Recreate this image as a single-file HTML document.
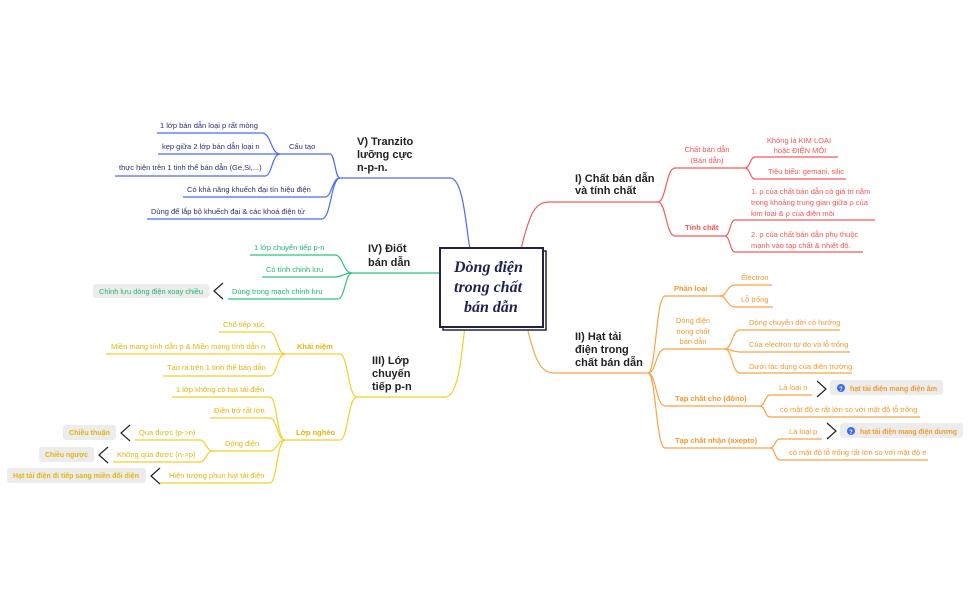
<!DOCTYPE html>
<html><head><meta charset="utf-8"><style>
html,body{margin:0;padding:0;background:#fff;}
svg{display:block;font-family:"Liberation Sans",sans-serif;}
.s{font-size:7.5px;}
.m{font-size:11px;font-weight:bold;fill:#222;}
.b{fill:#2c3070;} .g{fill:#22b573;} .y{fill:#e2b610;} .r{fill:#f25757;} .o{fill:#f39a34;}
path{fill:none;stroke-width:1.2;}
.pb{stroke:#4b6bf5;} .pg{stroke:#2fc47c;} .py{stroke:#f5cf2a;} .pr{stroke:#f55a5a;} .po{stroke:#f7a347;}
.chev{stroke:#222;stroke-width:1.2;fill:none;}
</style></head><body>
<svg width="971" height="601" viewBox="0 0 971 601">
<!-- Blue -->
<path class="pb" d="M340 178 H450 C464 178 466 230 470 249"/>
<path class="pb" d="M280 154 H330 C335 154 335 178 340 178"/>
<path class="pb" d="M157 133 H262 C271 133 271 154 280 154"/>
<path class="pb" d="M158 154 H280"/>
<path class="pb" d="M115 176 H265 C272 176 272 154 280 154"/>
<path class="pb" d="M183 197 H325 C332 197 332 178 340 178"/>
<path class="pb" d="M147 219 H322 C331 219 331 178 340 178"/>
<text class="m" x="357" y="145">V) Tranzito</text>
<text class="m" x="357" y="158">lưỡng cực</text>
<text class="m" x="357" y="171">n-p-n.</text>
<text class="s b" x="289" y="149">Cấu tạo</text>
<text class="s b" x="160" y="128">1 lớp bán dẫn loại p rất mỏng</text>
<text class="s b" x="162" y="149">kẹp giữa 2 lớp bán dẫn loại n</text>
<text class="s b" x="119" y="170">thực hiện trên 1 tinh thể bán dẫn (Ge,Si,...)</text>
<text class="s b" x="187" y="192">Có khả năng khuếch đại tín hiệu điện</text>
<text class="s b" x="151" y="214">Dùng để lắp bộ khuếch đại &amp; các khoá điện tử</text>
<!-- Green -->
<path class="pg" d="M352 273 H441"/>
<path class="pg" d="M250 255 H335 C343 255 343 273 352 273"/>
<path class="pg" d="M262 277 H335 C343 277 343 273 352 273"/>
<path class="pg" d="M228 299 H338 C345 299 345 273 352 273"/>
<text class="m" x="368" y="252">IV) Điốt</text>
<text class="m" x="368" y="266">bán dẫn</text>
<text class="s g" x="254" y="250">1 lớp chuyển tiếp p-n</text>
<text class="s g" x="266" y="272">Có tính chỉnh lưu</text>
<text class="s g" x="232" y="294">Dùng trong mạch chỉnh lưu</text>
<polyline class="chev" points="223,283 214,291 223,299"/>
<rect x="93" y="284" width="116" height="14" rx="3" fill="#ececec"/>
<text class="s g" x="99" y="294" textLength="104" lengthAdjust="spacingAndGlyphs">Chỉnh lưu dòng điện xoay chiều</text>
<!-- Yellow -->
<path class="py" d="M357 397 H445 C460 397 462 345 465 327"/>
<path class="py" d="M285 354 H340 C348 354 348 397 357 397"/>
<path class="py" d="M285 440 H340 C348 440 348 397 357 397"/>
<path class="py" d="M219 332 H270 C277 332 277 354 285 354"/>
<path class="py" d="M106 354 H285"/>
<path class="py" d="M163 376 H270 C277 376 277 354 285 354"/>
<path class="py" d="M172 397 H270 C277 397 277 440 285 440"/>
<path class="py" d="M210 418 H270 C277 418 277 440 285 440"/>
<path class="py" d="M213 451 H270 C277 451 277 440 285 440"/>
<path class="py" d="M160 483 H270 C277 483 277 440 285 440"/>
<path class="py" d="M135 440 H200 C206 440 206 451 213 451"/>
<path class="py" d="M113 462 H200 C206 462 206 451 213 451"/>
<text class="m" x="372" y="364">III) Lớp</text>
<text class="m" x="372" y="377">chuyến</text>
<text class="m" x="372" y="390">tiếp p-n</text>
<text class="s y" x="297" y="349" font-weight="bold">Khái niệm</text>
<text class="s y" x="223" y="327">Chổ tiếp xúc</text>
<text class="s y" x="111" y="349">Miền mang tính dẫn p &amp; Miền mang tính dẫn n</text>
<text class="s y" x="167" y="370">Tạo ra trên 1 tinh thể bán dẫn</text>
<text class="s y" x="296" y="435" font-weight="bold">Lớp nghèo</text>
<text class="s y" x="176" y="392">1 lớp không có hạt tải điện</text>
<text class="s y" x="214" y="413">Điện trở rất lớn</text>
<text class="s y" x="225" y="446">Dòng điện</text>
<text class="s y" x="139" y="435">Qua được (p-&gt;n)</text>
<text class="s y" x="117" y="457">Không qua được (n-&gt;p)</text>
<text class="s y" x="169" y="478">Hiện tượng phun hạt tải điện</text>
<polyline class="chev" points="130,425 121,433 130,441"/>
<rect x="63" y="425" width="53" height="15" rx="3" fill="#ececec"/>
<text class="s y" x="69" y="435" font-weight="bold" textLength="41" lengthAdjust="spacingAndGlyphs">Chiều thuận</text>
<polyline class="chev" points="108,447 99,455 108,463"/>
<rect x="39" y="447" width="55" height="15" rx="3" fill="#ececec"/>
<text class="s y" x="45" y="457" font-weight="bold" textLength="43" lengthAdjust="spacingAndGlyphs">Chiều ngược</text>
<polyline class="chev" points="160,468 151,476 160,484"/>
<rect x="7" y="468" width="139" height="15" rx="3" fill="#ececec"/>
<text class="s y" x="13" y="478" font-weight="bold" textLength="126" lengthAdjust="spacingAndGlyphs">Hạt tải điện đi tiếp sang miền đối diện</text>
<!-- Red -->
<path class="pr" d="M521 249 C530 212 535 202 550 202 H658"/>
<path class="pr" d="M658 202 C666 202 666 168 675 168 H745"/>
<path class="pr" d="M745 168 C750 168 750 157 755 157 H838"/>
<path class="pr" d="M745 168 C750 168 750 179 755 179 H846"/>
<path class="pr" d="M658 202 C666 202 666 236 675 236 H725"/>
<path class="pr" d="M725 236 C730 236 730 220 735 220 H875"/>
<path class="pr" d="M725 236 C730 236 730 252 735 252 H863"/>
<text class="m" x="575" y="182">I) Chất bán dẫn</text>
<text class="m" x="575" y="194">và tính chất</text>
<text class="s r" x="707" y="152" text-anchor="middle">Chất bán dẫn</text>
<text class="s r" x="707" y="163" text-anchor="middle">(Bán dẫn)</text>
<text class="s r" x="799" y="143" text-anchor="middle">Không là KIM LOẠI</text>
<text class="s r" x="800" y="153" text-anchor="middle">hoặc ĐIỆN MÔI</text>
<text class="s r" x="768" y="174">Tiêu biểu: gemani, silic</text>
<text class="s r" x="685" y="230" font-weight="bold">Tính chất</text>
<text class="s r" x="751" y="194">1. ρ của chất bán dẫn có giá trị nằm</text>
<text class="s r" x="751" y="205">trong khoảng trung gian giữa ρ của</text>
<text class="s r" x="751" y="216">kim loại &amp; ρ của điện môi</text>
<text class="s r" x="751" y="237">2. ρ của chất bán dẫn phụ thuộc</text>
<text class="s r" x="751" y="248">mạnh vào tạp chất &amp; nhiệt độ.</text>
<!-- Orange -->
<path class="po" d="M527 327 C535 360 540 373 555 373 H648"/>
<path class="po" d="M648 373 C656 373 656 296 665 296 H720"/>
<path class="po" d="M648 373 C656 373 656 349 665 349 H725"/>
<path class="po" d="M648 373 C656 373 656 406 665 406 H760"/>
<path class="po" d="M648 373 C656 373 656 448 665 448 H770"/>
<path class="po" d="M720 296 C727 296 727 285 735 285 H772"/>
<path class="po" d="M720 296 C727 296 727 307 735 307 H773"/>
<path class="po" d="M725 349 C732 349 732 330 740 330 H840"/>
<path class="po" d="M725 349 C732 349 732 352 740 352 H850"/>
<path class="po" d="M725 349 C732 349 732 373 740 373 H852"/>
<path class="po" d="M760 406 C765 406 765 395 770 395 H812"/>
<path class="po" d="M760 406 C765 406 765 417 770 417 H920"/>
<path class="po" d="M770 448 C775 448 775 439 780 439 H822"/>
<path class="po" d="M770 448 C775 448 775 460 780 460 H928"/>
<text class="m" x="575" y="340">II) Hạt tải</text>
<text class="m" x="575" y="353">điện trong</text>
<text class="m" x="575" y="366">chất bán dẫn</text>
<text class="s o" x="674" y="291" font-weight="bold">Phân loại</text>
<text class="s o" x="741" y="280">Êlectron</text>
<text class="s o" x="741" y="302">Lỗ trống</text>
<text class="s o" x="693" y="323" text-anchor="middle">Dòng điện</text>
<text class="s o" x="693" y="334" text-anchor="middle">trong chất</text>
<text class="s o" x="693" y="344" text-anchor="middle">bán dẫn</text>
<text class="s o" x="749" y="325">Dòng chuyển dời có hướng</text>
<text class="s o" x="749" y="347">Của electron tự do và lỗ trống</text>
<text class="s o" x="749" y="369">Dưới tác dụng của điện trường</text>
<text class="s o" x="675" y="401" font-weight="bold">Tạp chất cho (đôno)</text>
<text class="s o" x="779" y="390">Là loại n</text>
<text class="s o" x="780" y="412">có mặt độ e rất lớn so với mặt độ lỗ trống</text>
<text class="s o" x="675" y="443" font-weight="bold">Tạp chất nhận (axepto)</text>
<text class="s o" x="789" y="434">Là loại p</text>
<text class="s o" x="789" y="455">có mặt độ lỗ trống rất lớn so với mặt độ e</text>
<polyline class="chev" points="817,381 826,389 817,397"/>
<rect x="830" y="380" width="113" height="15" rx="3" fill="#ececec"/>
<circle cx="841" cy="388" r="4" fill="#3b6cf0"/><text x="841" y="391" font-size="6" fill="#fff" text-anchor="middle" font-weight="bold">?</text>
<text class="s o" x="850" y="391" font-weight="bold" textLength="87" lengthAdjust="spacingAndGlyphs">hạt tải điện mang điện âm</text>
<polyline class="chev" points="827,423 836,431 827,439"/>
<rect x="840" y="423" width="123" height="15" rx="3" fill="#ececec"/>
<circle cx="851" cy="431" r="4" fill="#3b6cf0"/><text x="851" y="434" font-size="6" fill="#fff" text-anchor="middle" font-weight="bold">?</text>
<text class="s o" x="860" y="434" font-weight="bold" textLength="97" lengthAdjust="spacingAndGlyphs">hạt tải điện mang điện dương</text>
<!-- Center -->
<rect x="443" y="251" width="103" height="79" fill="#fff" stroke="#222244" stroke-width="1.5"/>
<rect x="440" y="248" width="103" height="79" fill="#fff" stroke="#222244" stroke-width="2"/>
<g font-family="'Liberation Serif',serif" font-style="italic" font-weight="bold" font-size="16" fill="#1e2250">
<text x="454" y="272">Dòng điện</text>
<text x="454" y="292">trong chất</text>
<text x="464" y="312">bán dẫn</text>
</g>
</svg>
</body></html>
